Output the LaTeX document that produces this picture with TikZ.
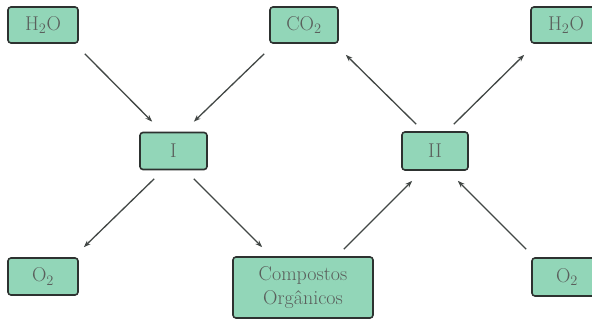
\documentclass[tikz,border=0pt]{standalone}
\usetikzlibrary{calc,arrows.meta}
\definecolor{boxfill}{RGB}{146,214,184}
\definecolor{boxline}{RGB}{45,50,48}
\definecolor{txt}{RGB}{90,95,92}
\tikzset{
  chem/.style={draw=boxline, line width=1.6pt, fill=boxfill, rounded corners=3pt,
    text=txt, font=\fontsize{20}{24}\selectfont, inner sep=0pt, align=center},
  conn/.style={draw=boxline!90, line width=1.3pt, -{Stealth[length=7pt,width=5pt]}}
}
\begin{document}
\begin{tikzpicture}[x=1pt,y=-1pt]
\clip (0,0) rectangle (592,320);
\useasboundingbox (0,0) rectangle (592,320);
\fill[white] (0,0) rectangle (592,320);
\node[chem, minimum width=70pt, minimum height=36pt] (hL) at (43,25) {H$_2$O};
\node[chem, minimum width=68pt, minimum height=36pt] (co2) at (304,25) {CO$_2$};
\node[chem, minimum width=70pt, minimum height=36pt] (hR) at (566,25) {H$_2$O};
\node[chem, minimum width=67pt, minimum height=37pt] (I) at (173.5,151) {I};
\node[chem, minimum width=66pt, minimum height=38pt] (II) at (435,151) {II};
\node[chem, minimum width=70pt, minimum height=37pt] (oL) at (43,276.5) {O$_2$};
\node[chem, minimum width=140pt, minimum height=61pt] (comp) at (303,287.5) {Compostos\\Org\^anicos};
\node[chem, minimum width=70pt, minimum height=38pt] (oR) at (567,277) {O$_2$};
\draw[conn] ($(hL.south east)+(6,10)$) -- ($(I.north west)+(13,-10)$);
\draw[conn] ($(co2.south west)+(-5,10)$) -- ($(I.north east)+(-14,-10)$);
\draw[conn] ($(II.north west)+(15,-7)$) -- ($(co2.south east)+(7,11)$);
\draw[conn] ($(II.north east)+(-15,-7)$) -- ($(hR.south west)+(-6,11)$);
\draw[conn] ($(I.south west)+(15,8.5)$) -- ($(oL.north east)+(5,-10)$);
\draw[conn] ($(I.south east)+(-14,8.5)$) -- ($(comp.north west)+(30,-9)$);
\draw[conn] ($(comp.north east)+(-30,-7)$) -- ($(II.south west)+(11,10)$);
\draw[conn] ($(oR.north west)+(-5,-8)$) -- ($(II.south east)+(-11,10)$);
\end{tikzpicture}
\end{document}
